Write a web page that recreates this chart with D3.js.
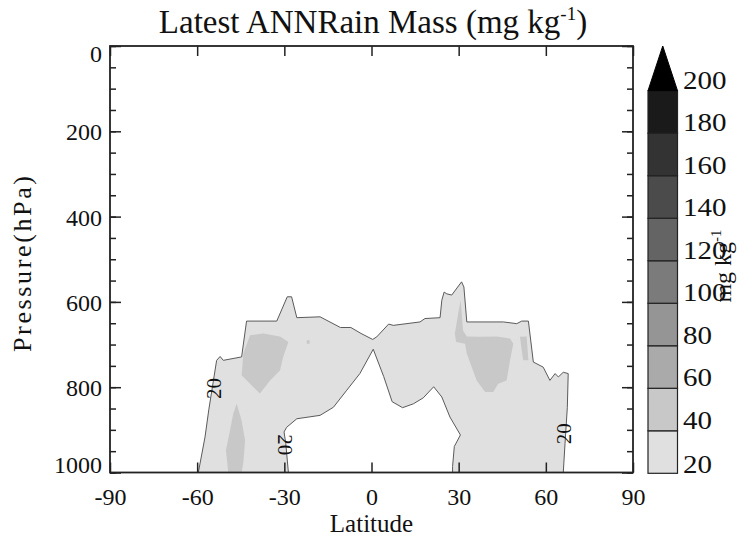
<!DOCTYPE html>
<html lang="en">
<head>
<meta charset="UTF-8">
<title>Latest ANNRain Mass</title>
<script src="https://d3js.org/d3.v7.min.js"></script>
<style>
  body { margin: 0; background: #fff; }
  svg text { font-family: "Liberation Serif", "DejaVu Serif", serif; fill: #111; }
  .axis path { display: none; }
  .axis line { stroke: #222; stroke-width: 1.5px; }
</style>
</head>
<body>
<svg width="752" height="539"></svg>
<script>
// tick values
const latTicks = [-90, -60, -30, 0, 30, 60, 90];
const pTicks = [0, 200, 400, 600, 800, 1000];

// colour bar levels (mg kg-1) and shades
const levels = [20, 40, 60, 80, 100, 120, 140, 160, 180, 200];
const shades = ["#e0e0e0", "#c8c8c8", "#aaaaaa", "#959595", "#7b7b7b", "#646464", "#4b4b4b", "#333333", "#1a1a1a"];
const overColor = "#000000";

// 20 mg/kg contour, [latitude, hPa]
const rain20 = [
  [-59.6, 1000], [-57.3, 917], [-56.0, 853], [-53.3, 737], [-52.1, 728], [-51.0, 737],
  [-44.7, 729], [-43.0, 645], [-32.6, 645], [-29.0, 588], [-27.5, 588], [-25.7, 637],
  [-17.7, 635], [-10.7, 660], [-7.1, 660], [-3.6, 674], [0.4, 688],
  [1.8, 682], [5.9, 652], [7.5, 655], [16.7, 647], [18.4, 639], [23.6, 637],
  [24.2, 596], [25.0, 577], [25.9, 581], [27.6, 584], [31.0, 553], [31.8, 565],
  [32.8, 647], [45.4, 647], [50.0, 651], [51.7, 645], [54.0, 645], [55.7, 741],
  [59.1, 753], [61.4, 784], [63.2, 768], [64.3, 776], [66.0, 765], [67.7, 768],
  [67.4, 847], [66.6, 933], [66.0, 1000],
  [27.9, 1000], [27.9, 986], [28.5, 939], [30.6, 912], [27.0, 870], [24.2, 823],
  [21.4, 799], [17.8, 825], [14.4, 839], [10.7, 848], [7.1, 834], [4.2, 775],
  [0.6, 711], [-4.0, 768], [-8.5, 807], [-13.1, 847], [-17.7, 866], [-25.7, 874],
  [-29.2, 894], [-30.1, 905], [-29.5, 932], [-28.6, 1000]
];

// 40 mg/kg patches
const rain40a = [
  [-41.8, 678], [-37.2, 674], [-31.5, 681], [-28.6, 694], [-30.4, 729], [-31.5, 761],
  [-34.9, 784], [-38.4, 815], [-41.8, 792], [-44.7, 772], [-44.1, 721]
];
const rain40b = [
  [-46.4, 839], [-44.7, 878], [-43.5, 925], [-44.1, 976], [-44.7, 1000],
  [-49.3, 1000], [-50.1, 948], [-48.7, 901], [-47.6, 862]
];
const rain40c = [
  [30.7, 596], [31.5, 667], [32.8, 681], [37.3, 682], [43.1, 681], [47.7, 686],
  [48.8, 698], [47.7, 737], [46.5, 784], [43.6, 792], [41.9, 811], [39.1, 811],
  [36.2, 784], [34.5, 753], [32.8, 721], [32.2, 698], [29.1, 694], [28.7, 674], [29.9, 624]
];
const rain40d = [[51.1, 682], [53.4, 681], [54.0, 737], [52.2, 737], [51.7, 714]];
const rain40e = [[-22.3, 690], [-21.3, 690], [-21.3, 698], [-22.3, 698]];

// contour labels: [latitude, hPa, rotation]
const labels20 = [[-54.4, 803, -90], [-29.6, 935, 90], [66.0, 909, -90]];

const svg = d3.select("svg");
const mLeft = 110, mRight = 633, mTop = 46, mBottom = 472.5;

const x = d3.scaleLinear().domain([-90, 90]).range([mLeft, mRight]);
const y = d3.scaleLinear().domain([0, 1000]).range([mTop, mBottom]);

svg.append("clipPath").attr("id", "plotClip")
  .append("rect").attr("x", mLeft).attr("y", mTop)
  .attr("width", mRight - mLeft).attr("height", mBottom - mTop);

const plot = svg.append("g").attr("clip-path", "url(#plotClip)");
const poly = d3.line().x(d => x(d[0])).y(d => y(d[1])).curve(d3.curveLinearClosed);

plot.append("path").attr("d", poly(rain20))
  .attr("fill", shades[0]).attr("stroke", "#5a5a5a").attr("stroke-width", 1);

[rain40a, rain40b, rain40c, rain40d, rain40e].forEach(p => {
  plot.append("path").attr("d", poly(p)).attr("fill", shades[1]).attr("stroke", "none");
});

plot.selectAll(".clab").data(labels20).enter().append("text")
  .attr("class", "clab")
  .attr("transform", d => `translate(${x(d[0])},${y(d[1])}) rotate(${d[2]})`)
  .attr("text-anchor", "middle").attr("dy", "0.35em")
  .style("font-size", "21px")
  .text("20");

const plain = d => String(d);

// axes: ticks point inward
const xb = svg.append("g").attr("class", "axis").attr("transform", `translate(0,${mBottom})`)
  .call(d3.axisBottom(x).tickValues(latTicks).tickFormat(plain).tickSizeInner(-10).tickSizeOuter(0));
xb.selectAll("text").attr("dy", null).attr("y", 32).style("font-size", "24px");

svg.append("g").attr("class", "axis").attr("transform", `translate(0,${mTop})`)
  .call(d3.axisTop(x).tickValues(latTicks).tickSizeInner(-10).tickSizeOuter(0).tickFormat(""));

const yl = svg.append("g").attr("class", "axis").attr("transform", `translate(${mLeft},0)`)
  .call(d3.axisLeft(y).tickValues(pTicks).tickFormat(plain).tickSizeInner(-11).tickSizeOuter(0));
yl.selectAll("text").style("font-size", "24px").attr("x", -8)
  .attr("dy", d => d === 0 ? "0.66em" : d === 1000 ? "0.02em" : "0.35em");

svg.append("g").attr("class", "axis").attr("transform", `translate(${mLeft},0)`)
  .call(d3.axisLeft(y).ticks(20).tickSizeInner(-6).tickSizeOuter(0).tickFormat(""));
svg.append("g").attr("class", "axis").attr("transform", `translate(${mRight},0)`)
  .call(d3.axisRight(y).tickValues(pTicks).tickSizeInner(-11).tickSizeOuter(0).tickFormat(""));
svg.append("g").attr("class", "axis").attr("transform", `translate(${mRight},0)`)
  .call(d3.axisRight(y).ticks(20).tickSizeInner(-6).tickSizeOuter(0).tickFormat(""));

svg.selectAll(".axis .domain").remove();

svg.append("rect").attr("x", mLeft).attr("y", mTop)
  .attr("width", mRight - mLeft).attr("height", mBottom - mTop)
  .attr("fill", "none").attr("stroke", "#222").attr("stroke-width", 1.8);

// titles
const title = svg.append("text").attr("x", 373).attr("y", 33)
  .attr("text-anchor", "middle").style("font-size", "33px");
title.append("tspan").text("Latest ANNRain Mass (mg kg");
title.append("tspan").attr("dy", -13).style("font-size", "19px").text("-1");
title.append("tspan").attr("dy", 13).text(")");

svg.append("text").attr("x", x(0)).attr("y", 532)
  .attr("text-anchor", "middle").style("font-size", "25px").text("Latitude");

svg.append("text").attr("transform", "translate(31,264) rotate(-90)")
  .attr("text-anchor", "middle").style("font-size", "26px")
  .attr("textLength", 176).attr("lengthAdjust", "spacing")
  .text("Pressure(hPa)");

// colour bar
const cbX = 648, cbW = 29.5, cbTip = 46;
const cy = d3.scaleLinear().domain([20, 200]).range([473.3, 90.7]);
const cb = svg.append("g");
cb.selectAll("rect").data(shades).enter().append("rect")
  .attr("x", cbX).attr("width", cbW)
  .attr("y", (d, i) => cy(levels[i + 1]))
  .attr("height", (d, i) => cy(levels[i]) - cy(levels[i + 1]))
  .attr("fill", d => d).attr("stroke", "#222").attr("stroke-width", 1.2);
cb.append("path")
  .attr("d", `M${cbX},${cy(200)}L${cbX + cbW / 2},${cbTip}L${cbX + cbW},${cy(200)}Z`)
  .attr("fill", overColor).attr("stroke", "#000");

cb.selectAll(".cblab").data(levels).enter().append("text")
  .attr("class", "cblab")
  .attr("x", 683).attr("y", d => cy(d) - (d === 20 ? 0 : 2))
  .style("font-size", "25px")
  .attr("textLength", d => String(d).length * 14.5).attr("lengthAdjust", "spacingAndGlyphs")
  .text(d => d);

const unit = svg.append("text").attr("transform", "translate(731,266) rotate(-90)")
  .attr("text-anchor", "middle").style("font-size", "24px");
unit.append("tspan").text("mg kg");
unit.append("tspan").attr("dy", -10).style("font-size", "15px").text("-1");
</script>
</body>
</html>
